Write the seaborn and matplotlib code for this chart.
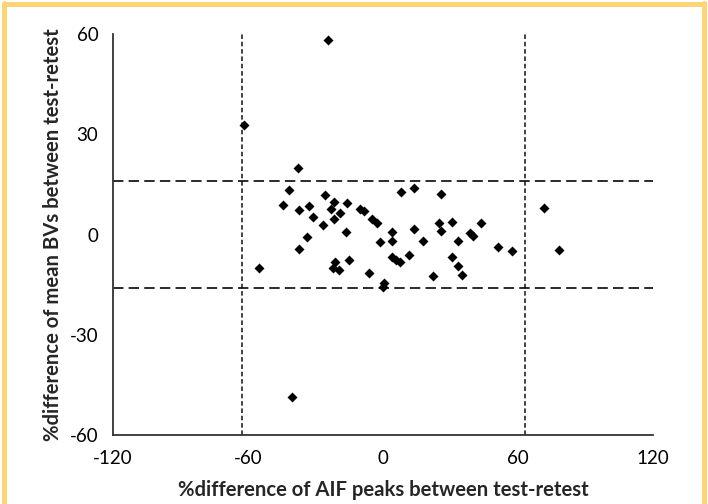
import numpy as np
import seaborn as sns
import matplotlib.pyplot as plt
from matplotlib.lines import Line2D

# %difference of AIF peaks (x) vs %difference of mean BVs (y)
aif_diff = [-61.8, -24.3, -40.6, -55.0, 71.6, 78.1,
            -37.9, -41.9, -44.3, -37.3, -32.7, -31.0, -25.6, -21.6, -23.1, -19.1,
            -21.6, -16.0, -26.8, -33.6, -37.3, -16.4, -21.3, -22.4, -19.4, -15.1,
            -10.2, -8.4, -5.0, -2.8, -1.5, 3.9, 3.9, 7.9, 13.6, 13.9, 17.6,
            3.9, 5.8, 7.6, 11.7, -6.4, 0.4, -0.1,
            25.6, 24.9, 30.8, 43.4, 25.6, 33.5, 38.7, 40.1, 51.3, 57.2,
            30.8, 33.2, 35.3, 22.4]
bv_diff = [32.9, 58.1, -48.5, -9.9, 7.9, -4.6,
           20.0, 13.4, 8.7, 7.2, 8.5, 5.2, 11.9, 9.8, 7.7, 6.5,
           4.6, 9.5, 2.9, -0.6, -4.3, 0.7, -8.3, -10.1, -10.6, -7.6,
           7.7, 6.9, 4.5, 3.5, -2.3, 0.9, -1.8, 12.7, 14.0, 1.7, -1.8,
           -6.8, -7.5, -8.1, -6.1, -11.6, -14.5, -15.6,
           12.1, 3.5, 3.8, 3.4, 1.0, -1.8, 0.4, -0.3, -3.8, -4.8,
           -6.8, -9.4, -12.1, -12.5]

# limits of agreement
x_loa = [-62.6, 63.1]
y_loa = [16.0, -15.9]

x_ticks = [-120, -60, 0, 60, 120]
y_ticks = [-60, -30, 0, 30, 60]

sns.set_style('white')
plt.rcParams['font.family'] = ['Lato', 'DejaVu Sans']
plt.rcParams['axes.unicode_minus'] = False

fig = plt.figure(figsize=(7.08, 5.04), dpi=100)
ax = fig.add_axes([0.1596, 0.1369, 0.7627, 0.7956])

sns.scatterplot(x=aif_diff, y=bv_diff, marker='D', s=26, color='black',
                linewidth=0, ax=ax, zorder=3)

# dashed reference lines
for yv in y_loa:
    ax.plot([x_ticks[0], x_ticks[-1]], [yv, yv], color='#111111', lw=1.25,
            linestyle=(0, (6.0, 3.0)), zorder=2)
for xv in x_loa:
    ax.plot([xv, xv], [y_ticks[0], y_ticks[-1]], color='#111111', lw=1.1,
            linestyle=(0, (3.0, 1.8)), zorder=2)

ax.set_xlim(x_ticks[0], x_ticks[-1])
ax.set_ylim(y_ticks[0], y_ticks[-1])
ax.set_xticks(x_ticks)
ax.set_yticks(y_ticks)

sns.despine(ax=ax)
for side in ['left', 'bottom']:
    ax.spines[side].set_color('#333333')
    ax.spines[side].set_linewidth(1.3)
ax.tick_params(axis='both', direction='out', length=4.5, width=1.3,
               color='#333333', labelsize=13.5, labelcolor='black', pad=6)

ax.set_xlabel('%difference of AIF peaks between test-retest', fontsize=14.6,
              fontweight='bold', labelpad=10)
ax.set_ylabel('%difference of mean BVs between test-retest', fontsize=14.6,
              fontweight='bold', labelpad=5)

# yellow frame around the picture
frame = '#FCD576'
fig.add_artist(Line2D([0.0063, 0.0063], [0.0, 0.994], transform=fig.transFigure, color=frame, lw=3.6))
fig.add_artist(Line2D([0.0063, 0.994], [0.992, 0.992], transform=fig.transFigure, color=frame, lw=3.6))
fig.add_artist(Line2D([0.994, 0.994], [0.0, 0.994], transform=fig.transFigure, color=frame, lw=3.6))

fig.savefig('out.png', dpi=100)
plt.close(fig)
